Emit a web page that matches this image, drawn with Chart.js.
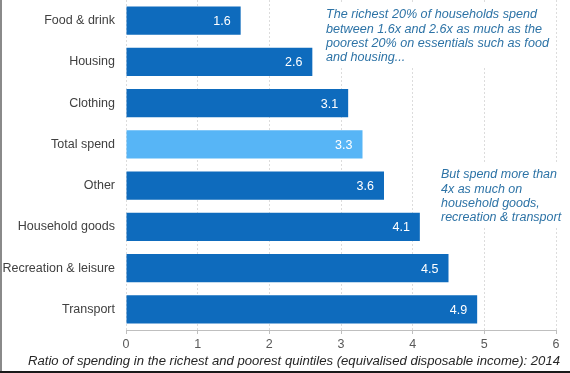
<!DOCTYPE html>
<html>
<head>
<meta charset="utf-8">
<script src="https://cdn.jsdelivr.net/npm/chart.js@4/dist/chart.umd.min.js"></script>
<style>
  html, body { margin: 0; padding: 0; background: #fff; }
  #wrap { width: 570px; height: 373px; position: relative; }
</style>
</head>
<body>
<div id="wrap"><canvas id="ratioChart"></canvas></div>
<script>
const categories = ['Food & drink', 'Housing', 'Clothing', 'Total spend', 'Other', 'Household goods', 'Recreation & leisure', 'Transport'];
const ratios = [1.6, 2.6, 3.1, 3.3, 3.6, 4.1, 4.5, 4.9];
const xTicks = [0, 1, 2, 3, 4, 5, 6];
const axisTitle = 'Ratio of spending in the richest and poorest quintiles (equivalised disposable income): 2014';
const noteTop = ['The richest 20% of households spend', 'between 1.6x and 2.6x as much as the', 'poorest 20% on essentials such as food', 'and housing...'];
const noteBottom = ['But spend more than', '4x as much on', 'household goods,', 'recreation & transport'];

const FONT = "'Liberation Sans', Arial, sans-serif";
const dark = '#0e6bbd';
const light = '#57b5f6';

// text is a bit wider than its height in the original, so stretch it to fit
function stretchedLines(ctx, lines, x, y, step, targetWidth) {
  const sx = targetWidth / ctx.measureText(lines[0]).width;
  ctx.save();
  ctx.translate(x, 0);
  ctx.scale(sx, 1);
  lines.forEach((t, i) => ctx.fillText(t, 0, y + i * step));
  ctx.restore();
}

const barLabels = {
  id: 'barLabels',
  afterDatasetsDraw(chart) {
    const ctx = chart.ctx;
    const meta = chart.getDatasetMeta(0);
    ctx.save();
    ctx.font = '12.5px ' + FONT;
    ctx.fillStyle = '#fff';
    ctx.textAlign = 'right';
    ctx.textBaseline = 'middle';
    meta.data.forEach((bar, i) => {
      ctx.fillText(ratios[i].toFixed(1), bar.x - 10, bar.y + 1);
    });
    ctx.restore();
  }
};

const notes = {
  id: 'notes',
  beforeDatasetsDraw(chart) {
    const ctx = chart.ctx;
    ctx.save();
    ctx.fillStyle = '#fff';
    ctx.fillRect(318, 2, 232, 66);
    ctx.fillRect(435, 164, 125, 64);
    ctx.restore();
  },
  afterDatasetsDraw(chart) {
    const ctx = chart.ctx;
    ctx.save();
    ctx.font = 'italic 12px ' + FONT;
    ctx.fillStyle = '#2d73a6';
    ctx.textAlign = 'left';
    ctx.textBaseline = 'middle';
    stretchedLines(ctx, noteTop, 326, 15, 14.3, 211);
    stretchedLines(ctx, noteBottom, 441, 175, 14.3, 116);
    ctx.font = 'italic 12px ' + FONT;
    ctx.fillStyle = '#262626';
    stretchedLines(ctx, [axisTitle], 28, 362, 0, 532);
    ctx.restore();
  },
  afterDraw(chart) {
    const ctx = chart.ctx;
    ctx.save();
    ctx.fillStyle = '#8a8a8a';
    ctx.fillRect(0, 0, 2, 373);
    ctx.fillStyle = '#1a1a1a';
    ctx.fillRect(0, 371, 570, 2);
    ctx.restore();
  }
};

new Chart(document.getElementById('ratioChart'), {
  type: 'bar',
  data: {
    labels: categories,
    datasets: [{
      data: ratios,
      backgroundColor: categories.map(c => c === 'Total spend' ? light : dark),
      categoryPercentage: 1,
      barPercentage: 0.68
    }]
  },
  options: {
    indexAxis: 'y',
    responsive: true,
    maintainAspectRatio: false,
    animation: false,
    layout: { padding: { top: 0, right: 14, left: 0, bottom: 0 } },
    plugins: {
      legend: { display: false },
      tooltip: { enabled: false }
    },
    scales: {
      x: {
        min: 0,
        max: 6,
        afterFit: s => { s.height = 43; },
        afterBuildTicks: s => { s.ticks = xTicks.map(v => ({ value: v })); },
        grid: { color: '#dcdcdc', tickLength: 4, tickColor: '#bfbfbf' },
        border: { display: true, color: '#bfbfbf', dash: [2, 2] },
        ticks: { color: '#595959', font: { family: FONT, size: 12.5 }, padding: 3 }
      },
      y: {
        afterFit: s => { s.width = 126; s.paddingTop = 0; s.paddingBottom = 0; },
        grid: { display: false },
        border: { display: false },
        ticks: { color: '#404040', font: { family: FONT, size: 12.5 }, padding: 3 }
      }
    }
  },
  plugins: [barLabels, notes]
});
</script>
</body>
</html>
